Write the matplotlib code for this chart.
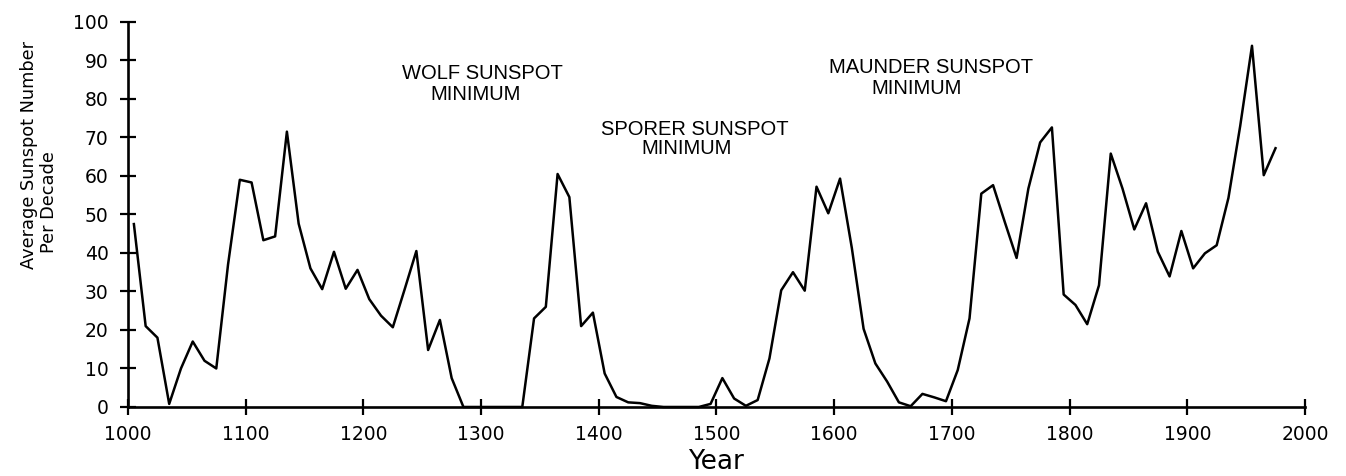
import numpy as np
from matplotlib import pyplot as plt

# decade averages, plotted at the middle of each decade
years = np.arange(1005, 1985, 10)

sunspots = [
	47.5, 21.0, 18.0, 0.8, 10.0, 17.0, 12.0, 10.0, 37.0, 59.0,      # 1000s
	58.3, 43.3, 44.3, 71.5, 47.6, 36.0, 30.6, 40.3, 30.7, 35.6,     # 1100s
	28.0, 23.7, 20.7, 30.5, 40.5, 14.8, 22.6, 7.5, 0.0, 0.0,        # 1200s
	0.0, 0.0, 0.0, 0.0, 23.0, 26.0, 60.5, 54.5, 21.0, 24.5,         # 1300s
	8.7, 2.6, 1.2, 1.0, 0.3, 0.0, 0.0, 0.0, 0.0, 0.8,               # 1400s
	7.5, 2.2, 0.3, 1.8, 12.6, 30.3, 35.0, 30.2, 57.2, 50.3,         # 1500s
	59.3, 41.3, 20.3, 11.3, 6.6, 1.2, 0.2, 3.4, 2.5, 1.5,           # 1600s
	9.6, 23.0, 55.4, 57.6, 48.0, 38.7, 56.7, 68.7, 72.6, 29.2,      # 1700s
	26.5, 21.5, 31.6, 65.8, 56.7, 46.1, 52.9, 40.3, 33.9, 45.7,     # 1800s
	36.0, 39.9, 42.0, 54.3, 73.0, 93.8, 60.2, 67.2,                 # 1900s
]

minima = ['WOLF SUNSPOT', 'SPORER SUNSPOT', 'MAUNDER SUNSPOT']
minima_x = [1301, 1482, 1682]
minima_y = [85.2, 70.6, 86.8]
sub_x = [1295, 1475, 1670]
sub_y = [79.7, 65.7, 81.3]

fig = plt.figure(figsize=(13.46, 4.76), dpi=100)
ax = fig.add_axes([0.0951, 0.145, 0.8744, 0.809])

ax.plot(years, sunspots, color='black', lw=1.8, clip_on=False, zorder=3)

ax.set_xlim(1000, 2000)
ax.set_ylim(0, 100)
ax.set_xticks(np.arange(1000, 2001, 100))
ax.set_yticks(np.arange(0, 101, 10))

for side in ['top', 'right']:
	ax.spines[side].set_visible(False)
for side in ['left', 'bottom']:
	ax.spines[side].set_linewidth(1.9)

ax.tick_params(axis='both', direction='inout', length=12, width=1.6,
               labelsize=13.5)
ax.tick_params(axis='x', pad=7)
ax.tick_params(axis='y', pad=8)

for name, x, y, x2, y2 in zip(minima, minima_x, minima_y, sub_x, sub_y):
	ax.text(x, y, name, ha='center', va='baseline',
	        family='Liberation Sans', fontsize=14.5)
	ax.text(x2, y2, 'MINIMUM', ha='center', va='baseline',
	        family='Liberation Sans', fontsize=14.5)

ax.set_xlabel('Year', fontsize=19)
ax.xaxis.set_label_coords(0.5, -0.11)
ax.xaxis.label.set_va('top')

fig.text(0.0215, 0.674, 'Average Sunspot Number', rotation=90,
         ha='center', va='center', fontsize=12.8)
fig.text(0.0364, 0.576, 'Per Decade', rotation=90,
         ha='center', va='center', fontsize=12.8)

plt.savefig('out.png', dpi=100)
